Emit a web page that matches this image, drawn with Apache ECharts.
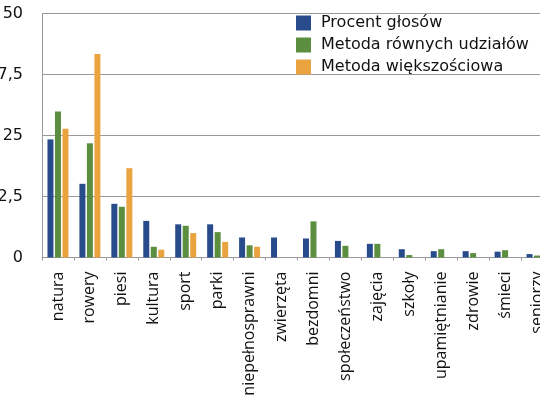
<!DOCTYPE html>
<html>
<head>
<meta charset="utf-8">
<script src="https://cdn.jsdelivr.net/npm/echarts@6/dist/echarts.min.js"></script>
<style>html,body{margin:0;padding:0;background:#fff;}#c{width:540px;height:407px;}</style>
</head>
<body>
<div id="c"></div>
<script>
const categories = ['natura','rowery','piesi','kultura','sport','parki','niepełnosprawni','zwierzęta','bezdomni','społeczeństwo','zajęcia','szkoły','upamiętnianie','zdrowie','śmieci','seniorzy'];
const procentGlosow = [24.2, 15.1, 11.0, 7.5, 6.8, 6.8, 4.1, 4.1, 3.9, 3.4, 2.8, 1.7, 1.3, 1.3, 1.2, 0.7];
const metodaRownych = [29.9, 23.4, 10.4, 2.2, 6.5, 5.2, 2.5, 0, 7.4, 2.4, 2.8, 0.5, 1.7, 0.9, 1.5, 0.4];
const metodaWiekszosciowa = [26.4, 41.7, 18.3, 1.6, 5.0, 3.2, 2.2, 0, 0, 0, 0, 0, 0, 0, 0, 0];
const seriesNames = ['Procent głosów', 'Metoda równych udziałów', 'Metoda większościowa'];
const yTicks = [0, 12.5, 25, 37.5, 50];

const chart = echarts.init(document.getElementById('c'), null, {renderer: 'canvas'});
const colors = ['#284b8c', '#5b8e3e', '#e9a440'];
chart.setOption({
  animation: false,
  color: colors,
  grid: {left: 42, right: -13, top: 13.5, bottom: 149.5, containLabel: false, outerBoundsMode: 'none'},
  legend: {
    orient: 'vertical', left: 296, top: 15, padding: 0,
    itemWidth: 15, itemHeight: 15, itemGap: 6,
    icon: 'rect',
    textStyle: {fontFamily: 'DejaVu Sans', fontSize: 16, color: '#111', padding: [0,0,0,5]},
    data: seriesNames
  },
  xAxis: {
    type: 'category', data: categories,
    axisLine: {lineStyle: {color: '#999', width: 1}},
    axisTick: {show: true, length: 3, lineStyle: {color: '#999'}},
    axisLabel: {rotate: 90, interval: 0, margin: 14, fontFamily: 'Open Sans', fontSize: 16, color: '#111'}
  },
  yAxis: {
    type: 'value', min: yTicks[0], max: yTicks[yTicks.length-1], interval: 12.5,
    axisLine: {show: true, lineStyle: {color: '#999', width: 1}},
    axisTick: {show: false},
    splitLine: {lineStyle: {color: '#999', width: 1}},
    axisLabel: {margin: 19, fontFamily: 'DejaVu Sans', fontSize: 16, color: '#111',
      formatter: v => String(v).replace('.', ',')}
  },
  series: [
    {name: seriesNames[0], type: 'bar', data: procentGlosow, barWidth: 6, barGap: '25%'},
    {name: seriesNames[1], type: 'bar', data: metodaRownych, barWidth: 6, barGap: '25%'},
    {name: seriesNames[2], type: 'bar', data: metodaWiekszosciowa, barWidth: 6, barGap: '25%'}
  ]
});
</script>
</body>
</html>
